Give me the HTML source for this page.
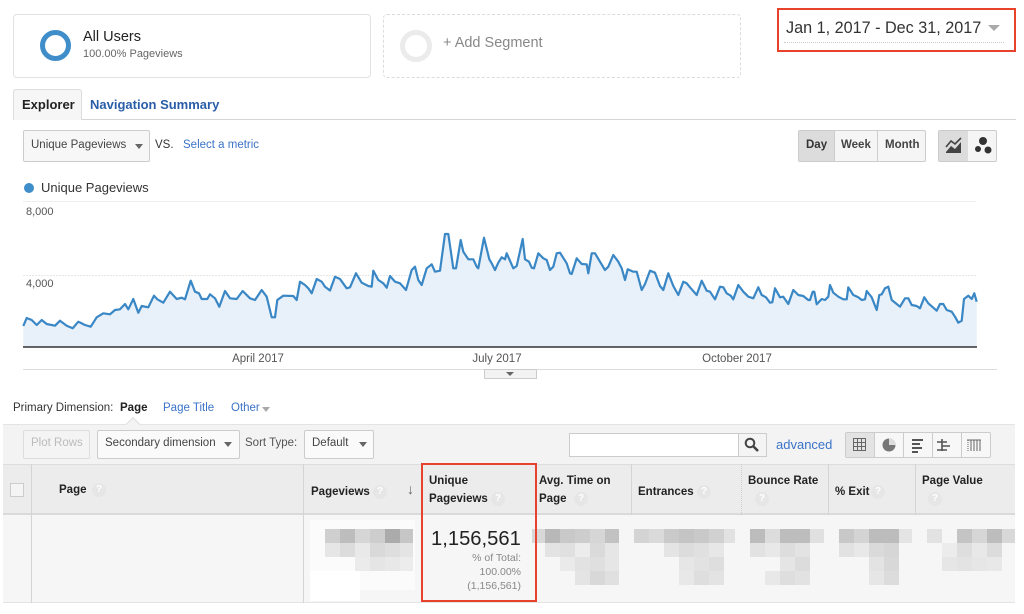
<!DOCTYPE html>
<html><head><meta charset="utf-8">
<style>
*{margin:0;padding:0;box-sizing:border-box}
body{width:1024px;height:614px;background:#fff;font-family:"Liberation Sans",Arial,sans-serif;color:#333;position:relative;overflow:hidden}
.a{position:absolute;white-space:nowrap}
.q{position:absolute;width:14px;height:14px;border-radius:50%;background:#e6e6e6;color:#fff;font-size:10px;font-weight:bold;text-align:center;line-height:14px}
.hd{position:absolute;font-size:11.5px;font-weight:bold;color:#222;line-height:18px}
.btn{position:absolute;border:1px solid #ccc;border-radius:2px;background:#f7f7f7}
.tri{position:absolute;width:0;height:0;border-left:4px solid transparent;border-right:4px solid transparent;border-top:5px solid #666}
</style></head><body>

<!-- segments -->
<div class="a" style="left:13px;top:14px;width:358px;height:64px;border:1px solid #e2e2e2;border-radius:4px"></div>
<div class="a" style="left:40px;top:30px;width:31px;height:31px;border:5px solid #3f8dc9;border-radius:50%"></div>
<div class="a" style="left:83px;top:29px;font-size:14.5px;color:#222">All Users</div>
<div class="a" style="left:83px;top:48px;font-size:11px;color:#666">100.00% Pageviews</div>

<div class="a" style="left:383px;top:14px;width:358px;height:64px;border:1px dashed #dcdcdc;border-radius:4px"></div>
<div class="a" style="left:400px;top:30px;width:32px;height:32px;border:5px solid #ebebeb;border-radius:50%"></div>
<div class="a" style="left:443px;top:35px;font-size:14.5px;color:#888">+ Add Segment</div>

<!-- date -->
<div class="a" style="left:777px;top:8px;width:239px;height:44px;border:2.5px solid #e8412c"></div>
<div class="a" style="left:786px;top:19px;font-size:16.2px;color:#333">Jan 1, 2017 - Dec 31, 2017</div>
<div class="a" style="left:784px;top:42px;width:220px;border-top:1px dotted #ccc"></div>
<div class="tri" style="left:988px;top:25px;border-left-width:6px;border-right-width:6px;border-top:6px solid #aaa"></div>

<!-- tabs -->
<div class="a" style="left:13px;top:119px;width:1003px;border-top:1px solid #d6d6d6"></div>
<div class="a" style="left:13px;top:89px;width:69px;height:31px;background:#f6f6f6;border:1px solid #ddd;border-bottom:none;border-radius:3px 3px 0 0"></div>
<div class="a" style="left:22px;top:97px;font-size:13px;font-weight:bold;color:#222">Explorer</div>
<div class="a" style="left:90px;top:97px;font-size:13px;font-weight:bold;color:#2a5da8">Navigation Summary</div>

<!-- metric selector -->
<div class="btn" style="left:23px;top:130px;width:127px;height:32px"></div>
<div class="a" style="left:31px;top:139px;font-size:11.5px;color:#444">Unique Pageviews</div>
<div class="tri" style="left:135px;top:144px"></div>
<div class="a" style="left:155px;top:139px;font-size:11.5px;color:#333">VS.</div>
<div class="a" style="left:183px;top:139px;font-size:11.5px;color:#3b73c8">Select a metric</div>

<!-- day/week/month -->
<div class="btn" style="left:798px;top:130px;width:128px;height:32px;background:#f5f5f5"></div>
<div class="a" style="left:799px;top:131px;width:35px;height:30px;background:#dcdcdc"></div>
<div class="a" style="left:834px;top:131px;height:30px;border-left:1px solid #ccc"></div>
<div class="a" style="left:877px;top:131px;height:30px;border-left:1px solid #ccc"></div>
<div class="a" style="left:806px;top:139px;font-size:11.5px;font-weight:bold;color:#333">Day</div>
<div class="a" style="left:841px;top:139px;font-size:11.5px;font-weight:bold;color:#444">Week</div>
<div class="a" style="left:885px;top:139px;font-size:11.5px;font-weight:bold;color:#444">Month</div>
<div class="btn" style="left:938px;top:130px;width:59px;height:32px;background:#f5f5f5"></div>
<div class="a" style="left:939px;top:131px;width:29px;height:30px;background:#dcdcdc"></div>
<svg class="a" style="left:938px;top:130px" width="60" height="32">
<path d="M8 22 L13 16 L17 19 L23 12 L23 23 L8 23 Z" fill="#444"/>
<path d="M8 17 L13 11 L17 14 L23 8" stroke="#444" stroke-width="1.6" fill="none"/>
<circle cx="45" cy="11" r="4" fill="#333"/><circle cx="40" cy="19" r="3" fill="#333"/><circle cx="50" cy="20" r="3.5" fill="#333"/>
</svg>

<!-- legend -->
<div class="a" style="left:24px;top:183px;width:10px;height:10px;border-radius:50%;background:#3f8dc9"></div>
<div class="a" style="left:41px;top:180px;font-size:13px;color:#333">Unique Pageviews</div>

<!-- chart -->
<svg class="a" style="left:0;top:0" width="1024" height="390">
<line x1="23" y1="201.5" x2="976" y2="201.5" stroke="#eee"/>
<line x1="23" y1="275.5" x2="976" y2="275.5" stroke="#e6e6e6" stroke-dasharray="2,1"/>
<polygon fill="#e8f0f9" points="23.3,347 23.3,326 26.7,318 31.7,320 36.7,325 41.7,320 46.7,324 55,325.7 60,320.7 66.7,325.7 72.7,328.3 78.3,321.7 85,325 90.7,326.7 96.7,317.3 103.3,313.3 110,314.3 115,310 120,309.3 125,304 128.3,309.3 133.3,299 138.3,312.7 141.7,306 148.3,307.3 154,295.7 157.3,299.3 163.3,302.7 170,291.7 176.7,299 181.7,297.7 185,299.3 190.7,280.7 195,291.7 199,293.3 201.7,299 207.3,299 210,294.3 215,298.3 219.3,306.7 225,291 230,298.3 236.7,299 242.7,291 250,298.3 255,300 261.7,290 266.7,296.7 271.7,317.3 275,317.3 277.3,300 283.3,295.7 293.3,296 296.7,300 300,281.7 305,285 308.3,288.3 311.7,293.3 316.7,279 321.7,281.7 325,286.7 330,290.5 335,276.7 340,279 346.7,288.3 350,287.3 356,273.3 361.7,282.7 368.3,286 371.7,286.7 373.3,270.7 378.3,280 383.3,283.3 386.7,287.7 390,276 395,281.7 400,283.3 406,290 411.7,270 415,266.7 418.3,280 421.7,285 426.7,268.3 431.7,264.3 435,271.7 440,270.7 445,234 448.3,234 453.3,268.3 456,268.3 460.7,240 463.3,251.7 468.3,259.3 473.3,259.3 476.7,266.7 478.3,268.3 484,237.7 489.3,259.3 491.7,263.3 495,270 498.3,262.7 501.7,257.3 505,259.3 506.7,253.3 513.3,268.3 516.7,266 522.7,239 525,259.3 529,261.7 531.7,267.7 534,268.3 538.3,253.3 543.3,258.3 546.7,260 550,270 553.3,266.7 556.7,253.3 560,252.7 566.7,263.3 570,273.3 571.7,274 576.7,258.3 581.7,264 586.7,264.3 588.3,273.3 591.7,253.3 595,253.3 600,261.7 605,270 608.3,266.7 613.3,255 618.3,261.7 621.7,268.3 625,280 627.7,269.3 633.3,271.7 636.7,271.7 641.7,290 645,284 650,270.7 655,272.7 660,286 663.3,290 668.3,273.3 673.3,286 678.3,295 683.3,281.7 686.7,283.3 690,287.3 696.7,295 701.7,280.7 706.7,290.7 710,291.7 715,299.3 720,286.7 723.3,287.3 726.7,293.3 730.7,295.7 733.3,299.3 738.3,285 743.3,291.7 748.3,296.7 753.3,298.3 758.3,287.3 761.7,295 766,297.3 770,302.7 772.3,302.3 775,288.3 780,297.3 783.3,296.7 788.3,304 793.3,290 798.3,295 803.3,296 808.3,300 810,300 812.7,291.7 814.3,291.7 816.7,304.3 821.7,299 825,300 828.3,296.7 830,285 833.3,292.7 838.3,296.7 843.3,299.3 846.7,299.3 848.3,287.3 853.3,295 858.3,297.3 861.7,300 865,299.3 866.7,291 871.7,297.3 876.7,310 879.3,295 881.7,294.3 885,288.3 888.3,286.7 891.7,300 896.7,304 900,306.7 905,298.3 908.3,298.3 911.7,305 916.7,306 920,308.3 924.3,297.3 928.3,303.3 933.3,307.7 936.7,310.7 940,304 943.3,304 946.7,310 951.7,311.7 955,316.7 958.3,322.7 961.7,320.7 964,299 968.3,295.7 971.7,299 974.3,293.3 976.7,301.7 976.7,347"/>
<polyline fill="none" stroke="#3a87c5" stroke-width="2.2" stroke-linejoin="round" points="23.3,326 26.7,318 31.7,320 36.7,325 41.7,320 46.7,324 55,325.7 60,320.7 66.7,325.7 72.7,328.3 78.3,321.7 85,325 90.7,326.7 96.7,317.3 103.3,313.3 110,314.3 115,310 120,309.3 125,304 128.3,309.3 133.3,299 138.3,312.7 141.7,306 148.3,307.3 154,295.7 157.3,299.3 163.3,302.7 170,291.7 176.7,299 181.7,297.7 185,299.3 190.7,280.7 195,291.7 199,293.3 201.7,299 207.3,299 210,294.3 215,298.3 219.3,306.7 225,291 230,298.3 236.7,299 242.7,291 250,298.3 255,300 261.7,290 266.7,296.7 271.7,317.3 275,317.3 277.3,300 283.3,295.7 293.3,296 296.7,300 300,281.7 305,285 308.3,288.3 311.7,293.3 316.7,279 321.7,281.7 325,286.7 330,290.5 335,276.7 340,279 346.7,288.3 350,287.3 356,273.3 361.7,282.7 368.3,286 371.7,286.7 373.3,270.7 378.3,280 383.3,283.3 386.7,287.7 390,276 395,281.7 400,283.3 406,290 411.7,270 415,266.7 418.3,280 421.7,285 426.7,268.3 431.7,264.3 435,271.7 440,270.7 445,234 448.3,234 453.3,268.3 456,268.3 460.7,240 463.3,251.7 468.3,259.3 473.3,259.3 476.7,266.7 478.3,268.3 484,237.7 489.3,259.3 491.7,263.3 495,270 498.3,262.7 501.7,257.3 505,259.3 506.7,253.3 513.3,268.3 516.7,266 522.7,239 525,259.3 529,261.7 531.7,267.7 534,268.3 538.3,253.3 543.3,258.3 546.7,260 550,270 553.3,266.7 556.7,253.3 560,252.7 566.7,263.3 570,273.3 571.7,274 576.7,258.3 581.7,264 586.7,264.3 588.3,273.3 591.7,253.3 595,253.3 600,261.7 605,270 608.3,266.7 613.3,255 618.3,261.7 621.7,268.3 625,280 627.7,269.3 633.3,271.7 636.7,271.7 641.7,290 645,284 650,270.7 655,272.7 660,286 663.3,290 668.3,273.3 673.3,286 678.3,295 683.3,281.7 686.7,283.3 690,287.3 696.7,295 701.7,280.7 706.7,290.7 710,291.7 715,299.3 720,286.7 723.3,287.3 726.7,293.3 730.7,295.7 733.3,299.3 738.3,285 743.3,291.7 748.3,296.7 753.3,298.3 758.3,287.3 761.7,295 766,297.3 770,302.7 772.3,302.3 775,288.3 780,297.3 783.3,296.7 788.3,304 793.3,290 798.3,295 803.3,296 808.3,300 810,300 812.7,291.7 814.3,291.7 816.7,304.3 821.7,299 825,300 828.3,296.7 830,285 833.3,292.7 838.3,296.7 843.3,299.3 846.7,299.3 848.3,287.3 853.3,295 858.3,297.3 861.7,300 865,299.3 866.7,291 871.7,297.3 876.7,310 879.3,295 881.7,294.3 885,288.3 888.3,286.7 891.7,300 896.7,304 900,306.7 905,298.3 908.3,298.3 911.7,305 916.7,306 920,308.3 924.3,297.3 928.3,303.3 933.3,307.7 936.7,310.7 940,304 943.3,304 946.7,310 951.7,311.7 955,316.7 958.3,322.7 961.7,320.7 964,299 968.3,295.7 971.7,299 974.3,293.3 976.7,301.7"/>
<line x1="23" y1="347" x2="977" y2="347" stroke="#333" stroke-width="1.5"/>
<text x="26" y="215" font-size="11" fill="#555" font-family="Liberation Sans, Arial, sans-serif">8,000</text>
<text x="26" y="287" font-size="11" fill="#555" font-family="Liberation Sans, Arial, sans-serif">4,000</text>
<text x="258" y="362" font-size="11.5" fill="#555" text-anchor="middle" font-family="Liberation Sans, Arial, sans-serif">April 2017</text>
<text x="497" y="362" font-size="11.5" fill="#555" text-anchor="middle" font-family="Liberation Sans, Arial, sans-serif">July 2017</text>
<text x="737" y="362" font-size="11.5" fill="#555" text-anchor="middle" font-family="Liberation Sans, Arial, sans-serif">October 2017</text>
<line x1="23" y1="369.5" x2="997" y2="369.5" stroke="#ddd"/>
<rect x="484.5" y="369.5" width="52" height="9" fill="#f2f2f2" stroke="#ccc"/>
<path d="M506 372 L514 372 L510 376 Z" fill="#666"/>
</svg>

<!-- primary dimension -->
<div class="a" style="left:13px;top:402px;font-size:11.5px;color:#333">Primary Dimension:</div>
<div class="a" style="left:120px;top:402px;font-size:11.5px;font-weight:bold;color:#222">Page</div>
<div class="a" style="left:163px;top:402px;font-size:11.5px;color:#3b73c8">Page Title</div>
<div class="a" style="left:231px;top:402px;font-size:11.5px;color:#3b73c8">Other</div>
<div class="tri" style="left:262px;top:407px;border-top-color:#aaa"></div>

<!-- toolbar -->
<div class="a" style="left:3px;top:424px;width:1012px;height:40px;background:#f3f3f3;border-top:1px solid #e4e4e4"></div>
<div class="a" style="left:128px;top:419px;width:10px;height:10px;background:#f3f3f3;border-left:1px solid #e0e0e0;border-top:1px solid #e0e0e0;transform:rotate(45deg)"></div>
<div class="btn" style="left:23px;top:430px;width:67px;height:29px;border-color:#ddd;background:#f4f4f4"></div>
<div class="a" style="left:31px;top:437px;font-size:11.5px;color:#bbb">Plot Rows</div>
<div class="btn" style="left:97px;top:430px;width:143px;height:29px;background:#fafafa"></div>
<div class="a" style="left:105px;top:437px;font-size:11.5px;color:#444">Secondary dimension</div>
<div class="tri" style="left:224px;top:442px"></div>
<div class="a" style="left:245px;top:437px;font-size:11.5px;color:#555">Sort Type:</div>
<div class="btn" style="left:304px;top:430px;width:70px;height:29px;background:#fafafa"></div>
<div class="a" style="left:312px;top:437px;font-size:11.5px;color:#444">Default</div>
<div class="tri" style="left:359px;top:442px"></div>

<div class="a" style="left:569px;top:433px;width:198px;height:24px;background:#fff;border:1px solid #ccc"></div>
<div class="a" style="left:738px;top:434px;width:28px;height:22px;background:#f4f4f4;border-left:1px solid #ccc"></div>
<svg class="a" style="left:744px;top:437px" width="16" height="16"><circle cx="6" cy="6" r="4.3" stroke="#444" stroke-width="2" fill="none"/><line x1="9" y1="9" x2="14" y2="14" stroke="#444" stroke-width="2.6"/></svg>
<div class="a" style="left:776px;top:437px;font-size:13px;color:#3b73c8">advanced</div>

<div class="btn" style="left:845px;top:432px;width:146px;height:26px;background:#f7f7f7"></div>
<div class="a" style="left:846px;top:433px;width:28px;height:24px;background:#e3e3e3"></div>
<div class="a" style="left:874px;top:433px;height:24px;border-left:1px solid #ccc"></div>
<div class="a" style="left:903px;top:433px;height:24px;border-left:1px solid #ccc"></div>
<div class="a" style="left:932px;top:433px;height:24px;border-left:1px solid #ccc"></div>
<div class="a" style="left:961px;top:433px;height:24px;border-left:1px solid #ccc"></div>
<svg class="a" style="left:845px;top:432px" width="146" height="26">
<g stroke="#666" fill="none" stroke-width="1"><rect x="8.5" y="6.5" width="12" height="12"/><line x1="12.5" y1="6.5" x2="12.5" y2="18.5"/><line x1="16.5" y1="6.5" x2="16.5" y2="18.5"/><line x1="8.5" y1="10.5" x2="20.5" y2="10.5"/><line x1="8.5" y1="14.5" x2="20.5" y2="14.5"/></g>
<circle cx="44" cy="13" r="6.5" fill="#777"/><path d="M44 13 L44 6.5 A6.5 6.5 0 0 1 50.5 13 Z" fill="#ddd"/>
<g fill="#555"><rect x="67" y="7" width="11" height="2"/><rect x="67" y="11" width="8" height="2"/><rect x="67" y="15" width="10" height="2"/><rect x="67" y="19" width="6" height="2"/></g>
<g stroke="#555" stroke-width="1.6" fill="none"><path d="M97 7 L97 19 M92 10 L102 10 M97 14 L105 14 M92 18 L102 18"/></g>
<g stroke="#666" stroke-width="1"><line x1="123" y1="8" x2="123" y2="19" stroke-dasharray="1,1"/><line x1="126" y1="8" x2="126" y2="19"/><line x1="129" y1="8" x2="129" y2="19"/><line x1="132" y1="8" x2="132" y2="19"/><line x1="135" y1="8" x2="135" y2="19"/><line x1="122" y1="8" x2="136" y2="8"/></g>
</svg>

<!-- table header -->
<div class="a" style="left:3px;top:464px;width:1012px;height:51px;background:#ececec;border-top:1px solid #ddd;border-bottom:2px solid #dadada"></div>
<div class="a" style="left:3px;top:515px;width:1012px;height:88px;background:#f6f6f6;border-bottom:1px solid #e4e4e4"></div>
<div class="a" style="left:31px;top:464px;height:139px;border-left:1px solid #d4d4d4"></div>
<div class="a" style="left:303px;top:464px;height:139px;border-left:1px solid #d4d4d4"></div>
<div class="a" style="left:631px;top:464px;height:51px;border-left:1px solid #d4d4d4"></div>
<div class="a" style="left:741px;top:464px;height:51px;border-left:1px dotted #ccc"></div>
<div class="a" style="left:828px;top:464px;height:51px;border-left:1px solid #d4d4d4"></div>
<div class="a" style="left:915px;top:464px;height:51px;border-left:1px solid #d4d4d4"></div>
<div class="a" style="left:10px;top:483px;width:14px;height:14px;border:1px solid #ccc;background:#f4f4f4"></div>

<div class="hd" style="left:59px;top:481px">Page</div><div class="q" style="left:92px;top:483px">?</div>
<div class="hd" style="left:311px;top:483px">Pageviews</div><div class="q" style="left:373px;top:485px">?</div>
<div class="a" style="left:407px;top:481px;font-size:14px;color:#666;font-weight:bold">&#8595;</div>
<div class="hd" style="left:429px;top:472px">Unique</div>
<div class="hd" style="left:429px;top:490px">Pageviews</div><div class="q" style="left:491px;top:492px">?</div>
<div class="hd" style="left:539px;top:472px">Avg. Time on</div>
<div class="hd" style="left:539px;top:490px">Page</div><div class="q" style="left:574px;top:492px">?</div>
<div class="hd" style="left:638px;top:483px">Entrances</div><div class="q" style="left:697px;top:485px">?</div>
<div class="hd" style="left:748px;top:472px">Bounce Rate</div><div class="q" style="left:755px;top:492px">?</div>
<div class="hd" style="left:835px;top:483px">% Exit</div><div class="q" style="left:871px;top:485px">?</div>
<div class="hd" style="left:922px;top:472px">Page Value</div><div class="q" style="left:928px;top:492px">?</div>

<!-- pixelated blurred values -->
<svg class="a" style="left:0;top:515px" width="1024" height="88">
<g>
<rect x="310" y="5" width="105" height="70" fill="#fbfbfb"/>
<rect x="325" y="14" width="15" height="14" fill="#cfcfcf"/><rect x="340" y="14" width="15" height="14" fill="#bdbdbd"/><rect x="355" y="14" width="15" height="14" fill="#d6d6d6"/><rect x="370" y="14" width="15" height="14" fill="#cdcdcd"/><rect x="385" y="14" width="15" height="14" fill="#ababab"/><rect x="400" y="14" width="13" height="14" fill="#c6c6c6"/>
<rect x="325" y="28" width="15" height="14" fill="#e6e6e6"/><rect x="340" y="28" width="15" height="14" fill="#dcdcdc"/><rect x="355" y="28" width="15" height="14" fill="#e9e9e9"/><rect x="370" y="28" width="15" height="14" fill="#d9d9d9"/><rect x="385" y="28" width="15" height="14" fill="#dedede"/><rect x="400" y="28" width="13" height="14" fill="#e4e4e4"/>
<rect x="355" y="42" width="15" height="14" fill="#ebebeb"/><rect x="370" y="42" width="15" height="14" fill="#e5e5e5"/><rect x="385" y="42" width="15" height="14" fill="#e8e8e8"/><rect x="400" y="42" width="13" height="14" fill="#ececec"/>
<rect x="310" y="56" width="50" height="30" fill="#fff"/>
</g>
<g>
<rect x="532" y="14" width="13" height="14" fill="#d8d8d8"/><rect x="545" y="14" width="15" height="14" fill="#b8b8b8"/><rect x="560" y="14" width="15" height="14" fill="#c9c9c9"/><rect x="575" y="14" width="15" height="14" fill="#cdcdcd"/><rect x="590" y="14" width="15" height="14" fill="#d6d6d6"/><rect x="605" y="14" width="14" height="14" fill="#c2c2c2"/>
<rect x="545" y="28" width="15" height="14" fill="#e3e3e3"/><rect x="560" y="28" width="15" height="14" fill="#e0e0e0"/><rect x="575" y="28" width="15" height="14" fill="#ececec"/><rect x="590" y="28" width="15" height="14" fill="#dadada"/><rect x="605" y="28" width="14" height="14" fill="#e6e6e6"/>
<rect x="560" y="42" width="15" height="14" fill="#eaeaea"/><rect x="575" y="42" width="15" height="14" fill="#e2e2e2"/><rect x="590" y="42" width="15" height="14" fill="#dfdfdf"/><rect x="605" y="42" width="14" height="14" fill="#e6e6e6"/>
<rect x="575" y="56" width="15" height="14" fill="#e4e4e4"/><rect x="590" y="56" width="15" height="14" fill="#d8d8d8"/><rect x="605" y="56" width="14" height="14" fill="#e0e0e0"/>
</g>
<g>
<rect x="634" y="14" width="15" height="14" fill="#d4d4d4"/><rect x="649" y="14" width="15" height="14" fill="#dadada"/><rect x="664" y="14" width="15" height="14" fill="#cacaca"/><rect x="679" y="14" width="15" height="14" fill="#c4c4c4"/><rect x="694" y="14" width="15" height="14" fill="#c9c9c9"/><rect x="709" y="14" width="15" height="14" fill="#d1d1d1"/><rect x="724" y="14" width="11" height="14" fill="#e2e2e2"/>
<rect x="664" y="28" width="15" height="14" fill="#e4e4e4"/><rect x="679" y="28" width="15" height="14" fill="#dcdcdc"/><rect x="694" y="28" width="15" height="14" fill="#e0e0e0"/><rect x="709" y="28" width="15" height="14" fill="#e7e7e7"/>
<rect x="679" y="42" width="15" height="14" fill="#e6e6e6"/><rect x="694" y="42" width="15" height="14" fill="#e2e2e2"/><rect x="709" y="42" width="15" height="14" fill="#dedede"/>
<rect x="679" y="56" width="15" height="14" fill="#e8e8e8"/><rect x="694" y="56" width="15" height="14" fill="#dedede"/><rect x="709" y="56" width="15" height="14" fill="#e3e3e3"/>
</g>
<g>
<rect x="750" y="14" width="15" height="14" fill="#bcbcbc"/><rect x="765" y="14" width="15" height="14" fill="#dcdcdc"/><rect x="780" y="14" width="30" height="14" fill="#bdbdbd"/><rect x="810" y="14" width="14" height="14" fill="#e0e0e0"/>
<rect x="750" y="28" width="15" height="14" fill="#e2e2e2"/><rect x="765" y="28" width="15" height="14" fill="#e8e8e8"/><rect x="780" y="28" width="15" height="14" fill="#dddddd"/><rect x="795" y="28" width="15" height="14" fill="#e3e3e3"/>
<rect x="780" y="42" width="15" height="14" fill="#e5e5e5"/><rect x="795" y="42" width="15" height="14" fill="#dcdcdc"/>
<rect x="765" y="56" width="15" height="14" fill="#e8e8e8"/><rect x="780" y="56" width="15" height="14" fill="#dedede"/><rect x="795" y="56" width="15" height="14" fill="#e2e2e2"/>
</g>
<g>
<rect x="839" y="14" width="15" height="14" fill="#c8c8c8"/><rect x="854" y="14" width="15" height="14" fill="#d4d4d4"/><rect x="869" y="14" width="30" height="14" fill="#bcbcbc"/><rect x="899" y="14" width="13" height="14" fill="#e4e4e4"/>
<rect x="839" y="28" width="15" height="14" fill="#e2e2e2"/><rect x="854" y="28" width="15" height="14" fill="#e8e8e8"/><rect x="869" y="28" width="15" height="14" fill="#dadada"/><rect x="884" y="28" width="15" height="14" fill="#d6d6d6"/>
<rect x="869" y="42" width="15" height="14" fill="#e3e3e3"/><rect x="884" y="42" width="15" height="14" fill="#d8d8d8"/>
<rect x="869" y="56" width="15" height="14" fill="#e6e6e6"/><rect x="884" y="56" width="15" height="14" fill="#dcdcdc"/>
</g>
<g>
<rect x="927" y="14" width="15" height="14" fill="#e2e2e2"/><rect x="957" y="14" width="15" height="14" fill="#c4c4c4"/><rect x="972" y="14" width="15" height="14" fill="#d6d6d6"/><rect x="987" y="14" width="15" height="14" fill="#bdbdbd"/><rect x="1002" y="14" width="13" height="14" fill="#d8d8d8"/>
<rect x="942" y="28" width="15" height="14" fill="#ececec"/><rect x="957" y="28" width="15" height="14" fill="#dedede"/><rect x="972" y="28" width="15" height="14" fill="#e8e8e8"/><rect x="987" y="28" width="15" height="14" fill="#dcdcdc"/>
<rect x="942" y="42" width="15" height="14" fill="#e6e6e6"/><rect x="957" y="42" width="15" height="14" fill="#e3e3e3"/><rect x="972" y="42" width="15" height="14" fill="#e6e6e6"/><rect x="987" y="42" width="15" height="14" fill="#e8e8e8"/>
</g>
</svg>

<!-- highlighted unique pageviews -->
<div class="a" style="left:421px;top:463px;width:116px;height:139px;border:2.5px solid #e8412c"></div>
<div class="a" style="left:431px;top:528px;font-size:20.2px;color:#222">1,156,561</div>
<div class="a" style="left:430px;top:551px;width:91px;text-align:right;font-size:10.5px;color:#888;line-height:14px">% of Total:<br>100.00%<br>(1,156,561)</div>

</body></html>
